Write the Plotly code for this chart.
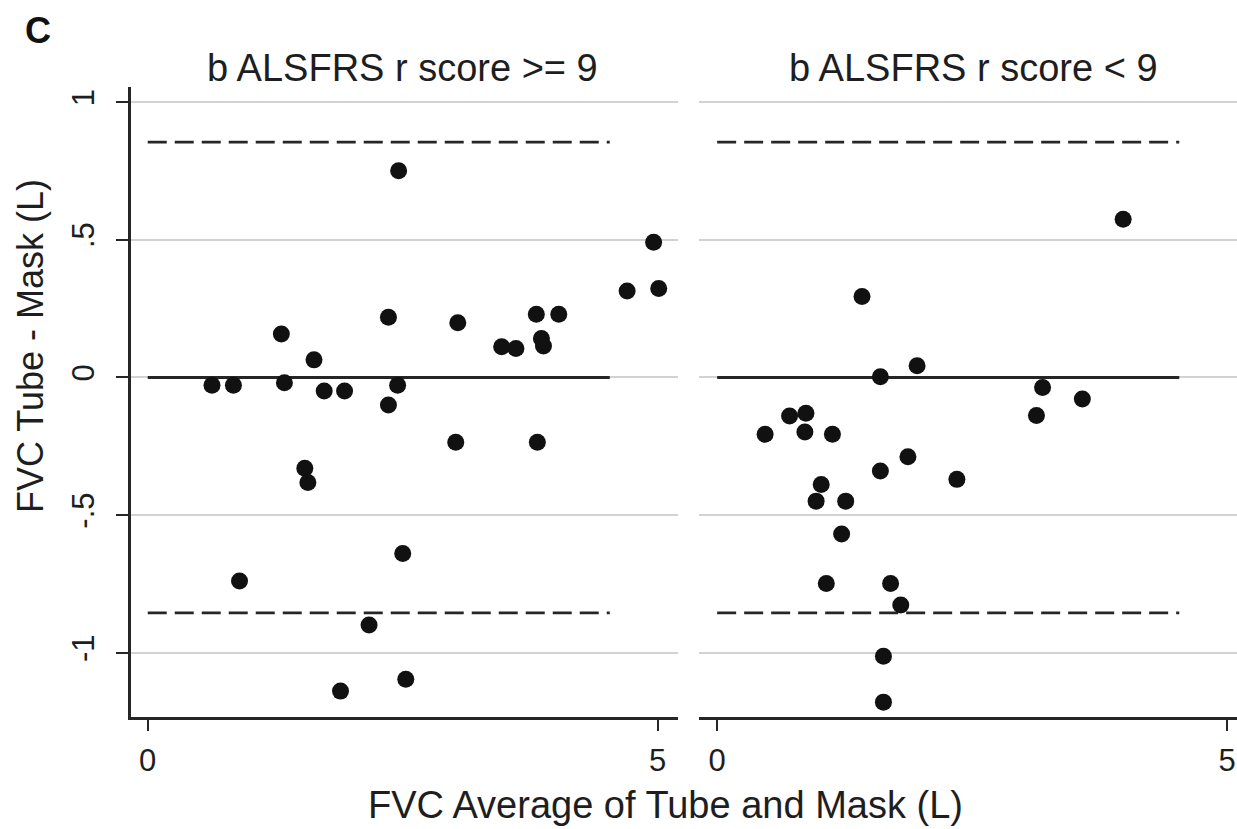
import plotly.graph_objects as go

# Bland-Altman data: FVC difference (tube - mask) vs. average of the two
left_x = [2.46, 4.96, 4.70, 5.01, 2.36, 3.04, 3.81, 4.03, 1.31, 1.63,
          3.47, 3.61, 3.86, 3.88, 0.63, 0.84, 1.34, 1.73, 1.93, 2.45,
          2.36, 3.02, 3.82, 1.54, 1.57, 2.50, 0.90, 2.17, 1.89, 2.53]
left_y = [0.751, 0.491, 0.314, 0.323, 0.219, 0.199, 0.230, 0.230, 0.158, 0.064,
          0.112, 0.105, 0.142, 0.114, -0.028, -0.028, -0.019, -0.049, -0.049, -0.028,
          -0.100, -0.235, -0.235, -0.330, -0.381, -0.639, -0.739, -0.899, -1.139, -1.096]

right_x = [3.98, 1.42, 1.96, 1.60, 3.19, 3.58, 3.13, 0.71, 0.87, 0.47,
           0.86, 1.13, 1.87, 1.60, 2.35, 1.02, 0.97, 1.26, 1.22, 1.07,
           1.70, 1.80, 1.63, 1.63]
right_y = [0.575, 0.294, 0.043, 0.003, -0.036, -0.078, -0.138, -0.140, -0.130, -0.206,
           -0.198, -0.206, -0.288, -0.340, -0.370, -0.389, -0.449, -0.449, -0.568, -0.748,
           -0.748, -0.826, -1.012, -1.179]

panel_titles = ["b ALSFRS r score >= 9", "b ALSFRS r score < 9"]

# mean difference and limits of agreement, drawn over the same x span
mean_diff = 0.0
loa_upper = 0.855
loa_lower = -0.855
ref_span = [0.0, 4.53]

y_tickvals = [-1, -0.5, 0, 0.5, 1]
y_ticktext = ["-1", "-.5", "0", ".5", "1"]
x_tickvals = [0, 5]
x_ticktext = ["0", "5"]

W, H = 1237, 829
FONT = "Liberation Sans, Arial, Helvetica, sans-serif"
INK = "#1e1e1e"
LINE = "#262626"
GRID = "#d2d2d2"


def px_x(p):
    return p / W


def px_y(p):
    return 1 - p / H


fig = go.Figure()

for xa, ya, xs, ys in (("x", "y", left_x, left_y), ("x2", "y2", right_x, right_y)):
    fig.add_trace(go.Scatter(
        x=ref_span, y=[loa_upper, loa_upper], mode="lines", xaxis=xa, yaxis=ya,
        line=dict(color=LINE, width=2.8, dash="19px,8px"), hoverinfo="skip"))
    fig.add_trace(go.Scatter(
        x=ref_span, y=[loa_lower, loa_lower], mode="lines", xaxis=xa, yaxis=ya,
        line=dict(color=LINE, width=2.8, dash="19px,8px"), hoverinfo="skip"))
    fig.add_trace(go.Scatter(
        x=ref_span, y=[mean_diff, mean_diff], mode="lines", xaxis=xa, yaxis=ya,
        line=dict(color=LINE, width=2.8), hoverinfo="skip"))
    fig.add_trace(go.Scatter(
        x=xs, y=ys, mode="markers", xaxis=xa, yaxis=ya,
        marker=dict(color="#111111", size=17, line=dict(width=0))))

y_top, y_bot = 87, 717
ydom = [px_y(y_bot), px_y(y_top)]
yrange = [-1.233, 1.055]

xaxis_common = dict(
    tickvals=x_tickvals, ticktext=x_ticktext, showgrid=False, zeroline=False,
    showline=True, linecolor=LINE, linewidth=2.8, ticks="outside", ticklen=11,
    tickwidth=2, tickcolor=LINE, ticklabelstandoff=3,
    tickfont=dict(family=FONT, size=31, color=INK))

fig.update_layout(
    width=W, height=H, margin=dict(l=0, r=0, t=0, b=0),
    paper_bgcolor="white", plot_bgcolor="white", showlegend=False,
    xaxis=dict(xaxis_common, domain=[px_x(130.5), px_x(678)],
               range=[-0.169, 5.199], anchor="y"),
    xaxis2=dict(xaxis_common, domain=[px_x(698.8), 1.0],
                range=[-0.180, 5.096], anchor="y2"),
    yaxis=dict(domain=ydom, range=yrange, tickvals=y_tickvals, ticktext=y_ticktext,
               tickangle=-90, showgrid=True, gridcolor=GRID, gridwidth=2,
               zeroline=False, showline=True, linecolor=LINE, linewidth=2.8,
               ticks="outside", ticklen=12, tickwidth=2, tickcolor=LINE,
               ticklabelstandoff=9, tickfont=dict(family=FONT, size=31, color=INK),
               anchor="x"),
    yaxis2=dict(domain=ydom, range=yrange, tickvals=y_tickvals, showticklabels=False,
                showgrid=True, gridcolor=GRID, gridwidth=2, zeroline=False,
                showline=False, ticks="", anchor="x2"),
)

annotations = [
    dict(text="<b>C</b>", x=px_x(38), y=px_y(30), font=dict(family=FONT, size=36, color="#111")),
    dict(text=panel_titles[0], x=px_x(402), y=px_y(68), font=dict(family=FONT, size=38, color=INK)),
    dict(text=panel_titles[1], x=px_x(973), y=px_y(68), font=dict(family=FONT, size=38, color=INK)),
    dict(text="FVC Average of Tube and Mask (L)", x=px_x(665), y=px_y(805),
         font=dict(family=FONT, size=38, color=INK)),
    dict(text="FVC Tube - Mask (L)", x=px_x(30), y=px_y(346), textangle=-90,
         font=dict(family=FONT, size=36, color=INK)),
]
for a in annotations:
    a.update(xref="paper", yref="paper", xanchor="center", yanchor="middle", showarrow=False)
fig.update_layout(annotations=annotations)

fig.write_html("out.html")
